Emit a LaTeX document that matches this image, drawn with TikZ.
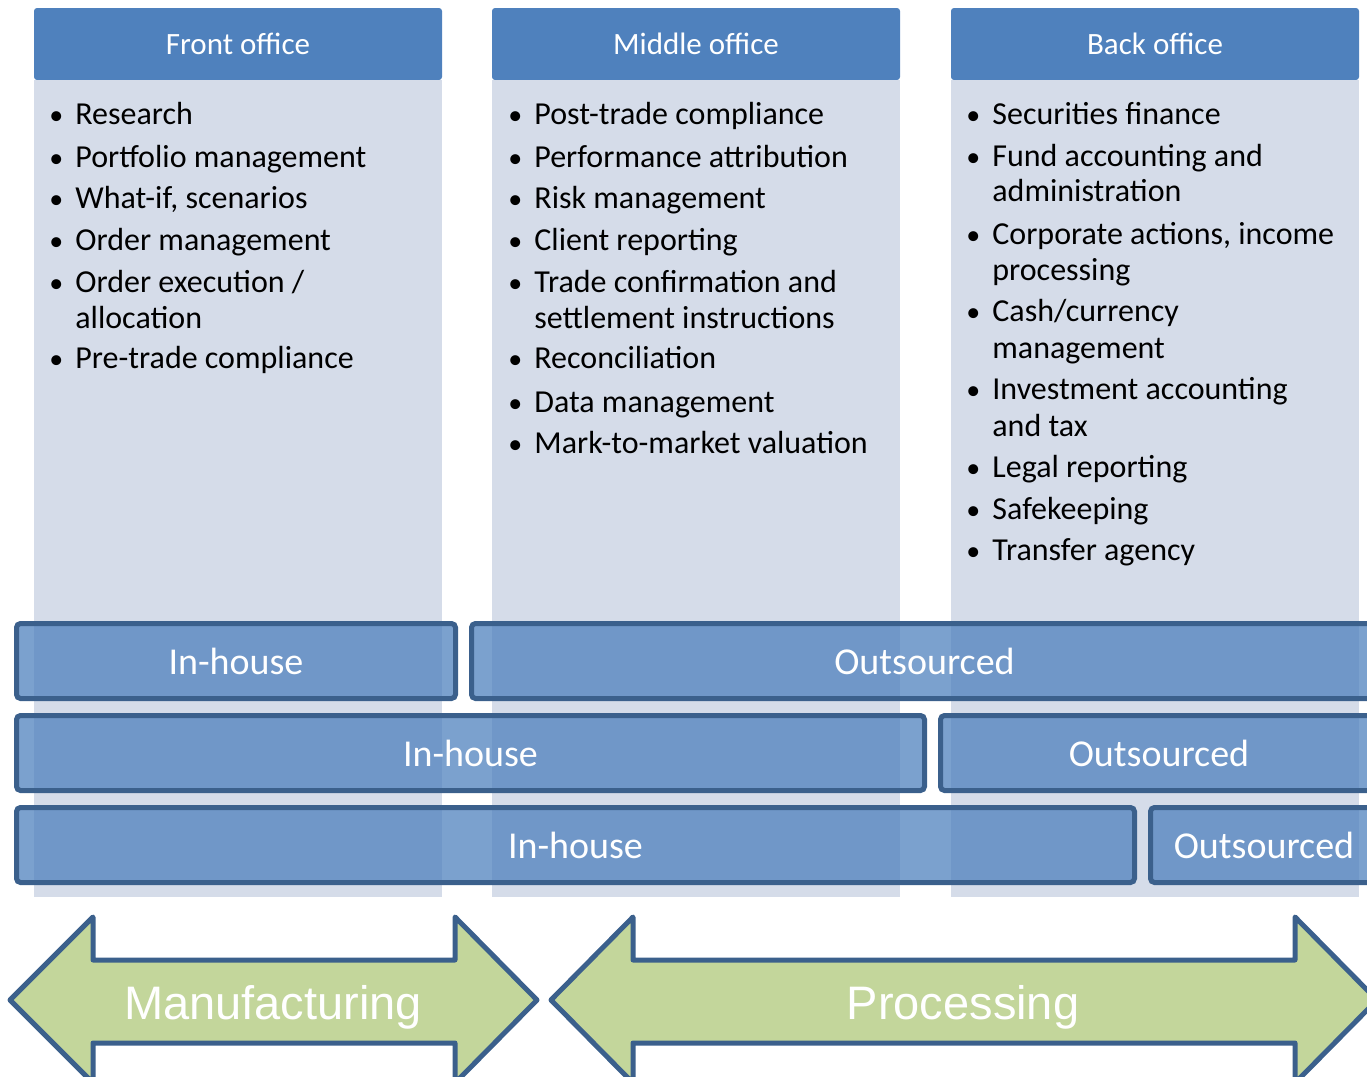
\documentclass[tikz,border=0pt]{standalone}
\usepackage{fontspec}
\setmainfont{Carlito}
\newfontfamily\arialfont{Liberation Sans}
\usetikzlibrary{positioning}
\definecolor{hdblue}{RGB}{79,129,189}
\definecolor{colbg}{RGB}{213,220,233}
\definecolor{edgeblue}{RGB}{59,96,140}
\definecolor{arrowgreen}{RGB}{195,214,155}
\newcommand{\bul}{\llap{{\fontsize{14}{16}\selectfont\textbullet}\hspace{6pt}}}

\begin{document}
\begin{tikzpicture}[x=0.5pt,y=-0.5pt,
    head/.style={fill=hdblue, text=white, font=\fontsize{15.5}{18}\selectfont,
      minimum width=204pt, minimum height=36pt, inner sep=0pt, outer sep=0pt, rounded corners=1.5pt},
    colbody/.style={fill=colbg, minimum width=204pt, minimum height=408.5pt, inner sep=0pt, outer sep=0pt},
    line/.style={anchor=base west, inner sep=0pt, font=\fontsize{16}{19}\selectfont},
    bar/.style={draw=edgeblue, line width=2.5pt, fill=hdblue, fill opacity=0.75, text opacity=1,
      text=white, rounded corners=2pt, minimum height=37.5pt, inner sep=0pt, font=\fontsize{19}{22}\selectfont},
    bigarrow/.style={draw=edgeblue, line width=2.5pt, fill=arrowgreen, line join=round},
    arrowtext/.style={anchor=base, text=white, inner sep=0pt, font=\arialfont\fontsize{23.5}{26}\selectfont}
  ]
    \useasboundingbox (0,0) rectangle (1367,1077);
    \clip (0,0) rectangle (1367,1077);

    % columns
    \node[head] (front) at (238,44) {Front office};
    \node[colbody, below=0pt of front] (frontbody) {};
    \node[head] (middle) at (696,44) {Middle office};
    \node[colbody, below=0pt of middle] (middlebody) {};
    \node[head] (back) at (1155,44) {Back office};
    \node[colbody, below=0pt of back] (backbody) {};

    % front office items
    \node[line] (fo1) at (75,124) {\bul Research};
    \node[line] (fo2) at (75,167) {\bul Portfolio management};
    \node[line] (fo3) at (75,208) {\bul What-if, scenarios};
    \node[line] (fo4) at (75,250) {\bul Order management};
    \node[line] (fo5) at (75,292) {\bul Order execution /};
    \node[line] (fo5b) at (75,328) {allocation};
    \node[line] (fo6) at (75,368) {\bul Pre-trade compliance};

    % middle office items
    \node[line] (mo1) at (534,124) {\bul Post-trade compliance};
    \node[line] (mo2) at (534,167) {\bul Performance attribution};
    \node[line] (mo3) at (534,208) {\bul Risk management};
    \node[line] (mo4) at (534,250) {\bul Client reporting};
    \node[line] (mo5) at (534,292) {\bul Trade confirmation and};
    \node[line] (mo5b) at (534,328) {settlement instructions};
    \node[line] (mo6) at (534,368) {\bul Reconciliation};
    \node[line] (mo7) at (534,412) {\bul Data management};
    \node[line] (mo8) at (534,453) {\bul Mark-to-market valuation};

    % back office items
    \node[line] (bo1) at (992,124) {\bul Securities finance};
    \node[line] (bo2) at (992,166) {\bul Fund accounting and};
    \node[line] (bo2b) at (992,201) {administration};
    \node[line] (bo3) at (992,244) {\bul Corporate actions, income};
    \node[line] (bo3b) at (992,280) {processing};
    \node[line] (bo4) at (992,321) {\bul Cash/currency};
    \node[line] (bo4b) at (992,358) {management};
    \node[line] (bo5) at (992,399) {\bul Investment accounting};
    \node[line] (bo5b) at (992,436) {and tax};
    \node[line] (bo6) at (992,477) {\bul Legal reporting};
    \node[line] (bo7) at (992,519) {\bul Safekeeping};
    \node[line] (bo8) at (992,560) {\bul Transfer agency};

    % sourcing bars
    \node[bar, minimum width=219.5pt] (inA) at (236,661) {In-house};
    \node[bar, minimum width=453pt] (outA) at (924.5,661) {Outsourced};
    \node[bar, minimum width=454pt] (inB) at (470.5,753) {In-house};
    \node[bar, minimum width=218.5pt] (outB) at (1159,753) {Outsourced};
    \node[bar, minimum width=559pt] (inC) at (575.5,845) {In-house};
    \node[bar, minimum width=113.5pt] (outC) at (1264,845) {Outsourced};

    % arrows
    \draw[bigarrow] (10,1000) -- (93,917) -- (93,960) -- (455,960) -- (455,917) -- (537,1000)
      -- (455,1083) -- (455,1043) -- (93,1043) -- (93,1083) -- cycle;
    \node[arrowtext] (manuf) at (273,1019) {Manufacturing};
    \draw[bigarrow] (551,1000) -- (633,917) -- (633,960) -- (1295,960) -- (1295,917) -- (1377,1000)
      -- (1295,1083) -- (1295,1043) -- (633,1043) -- (633,1083) -- cycle;
    \node[arrowtext] (proc) at (963,1019) {Processing};
\end{tikzpicture}
\end{document}
